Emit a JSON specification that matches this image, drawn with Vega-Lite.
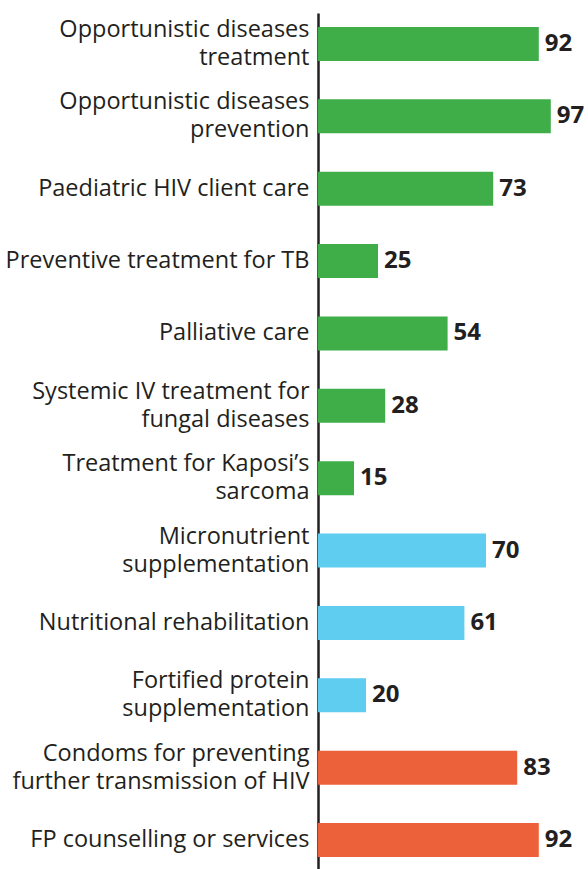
{
  "$schema": "https://vega.github.io/schema/vega-lite/v6.json",
  "width": 270,
  "height": 858,
  "autosize": {"type": "none"},
  "padding": {"left": 318, "top": 13, "right": 0, "bottom": 0},
  "background": "white",
  "config": {"view": {"stroke": null}},
  "data": {
    "values": [
      {"item": "Opportunistic diseases|treatment", "value": 92, "group": "care"},
      {"item": "Opportunistic diseases|prevention", "value": 97, "group": "care"},
      {"item": "Paediatric HIV client care", "value": 73, "group": "care"},
      {"item": "Preventive treatment for TB", "value": 25, "group": "care"},
      {"item": "Palliative care", "value": 54, "group": "care"},
      {"item": "Systemic IV treatment for|fungal diseases", "value": 28, "group": "care"},
      {"item": "Treatment for Kaposi’s|sarcoma", "value": 15, "group": "care"},
      {"item": "Micronutrient|supplementation", "value": 70, "group": "nutrition"},
      {"item": "Nutritional rehabilitation", "value": 61, "group": "nutrition"},
      {"item": "Fortified protein|supplementation", "value": 20, "group": "nutrition"},
      {"item": "Condoms for preventing|further transmission of HIV", "value": 83, "group": "prevention"},
      {"item": "FP counselling or services", "value": 92, "group": "prevention"}
    ]
  },
  "encoding": {
    "y": {
      "field": "item",
      "type": "nominal",
      "sort": null,
      "scale": {"paddingInner": 0.53, "paddingOuter": 0.193},
      "axis": {
        "title": null,
        "domain": true,
        "domainColor": "#231f20",
        "domainWidth": 2.5,
        "ticks": false,
        "grid": false,
        "labelExpr": "split(datum.label, '|')",
        "labelFont": "Open Sans",
        "labelFontSize": 23.5,
        "labelColor": "#231f20",
        "labelPadding": 9,
        "labelLimit": 330,
        "labelLineHeight": 28,
        "labelOffset": {"condition": {"test": "indexof(datum.value, '|') >= 0", "value": -14}, "value": 0}
      }
    },
    "x": {
      "field": "value",
      "type": "quantitative",
      "scale": {"domain": [0, 112.5]},
      "axis": null
    }
  },
  "layer": [
    {
      "mark": {"type": "bar"},
      "encoding": {
        "color": {
          "field": "group",
          "type": "nominal",
          "scale": {"domain": ["care", "nutrition", "prevention"], "range": ["#3fae49", "#5ecdf0", "#ec6139"]},
          "legend": null
        }
      }
    },
    {
      "mark": {"type": "text", "align": "left", "baseline": "middle", "dx": 6, "font": "Open Sans", "fontWeight": "bold", "fontSize": 24, "color": "#231f20"},
      "encoding": {"text": {"field": "value", "type": "quantitative"}}
    }
  ]
}
